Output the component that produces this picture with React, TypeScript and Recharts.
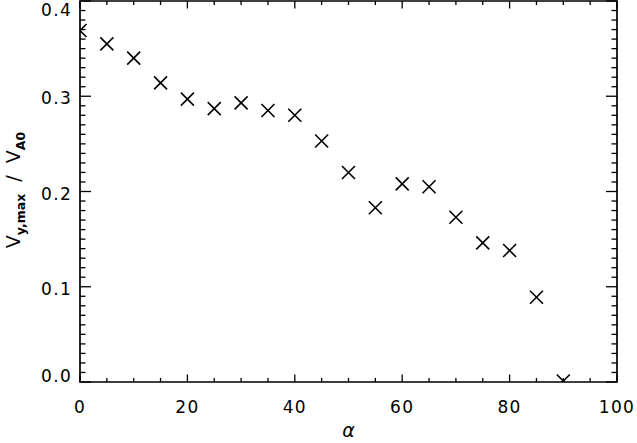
import React from 'react';
import {
  ScatterChart,
  Scatter,
  XAxis,
  YAxis,
  ReferenceArea,
  Label,
} from 'recharts';

// angle alpha (deg) and measured ratio V_y,max / V_A0
const ALPHA = [0, 5, 10, 15, 20, 25, 30, 35, 40, 45, 50, 55, 60, 65, 70, 75, 80, 85, 90];
const RATIO = [
  0.369, 0.355, 0.34, 0.314, 0.297, 0.287, 0.293, 0.285, 0.28, 0.253,
  0.22, 0.183, 0.208, 0.205, 0.173, 0.146, 0.138, 0.089, 0.001,
];

const X_MAJOR = [0, 20, 40, 60, 80, 100];
const X_MINOR_STEP = 5;
const Y_MAJOR = [0, 0.1, 0.2, 0.3, 0.4];
const Y_MINOR_STEP = 0.01;

const X_TICKS: number[] = [];
for (let v = 0; v <= 100; v += X_MINOR_STEP) X_TICKS.push(v);
const Y_TICKS: number[] = [];
for (let i = 0; i <= 40; i++) Y_TICKS.push(Math.round(i * Y_MINOR_STEP * 100) / 100);

const data = ALPHA.map((a, i) => ({ alpha: a, ratio: RATIO[i] }));

const W = 637;
const H = 443;
const PLOT_L = 80;
const PLOT_R = 617;
const PLOT_T = 1;
const PLOT_B = 382;
const FONT = '"DejaVu Sans", sans-serif';

const isXMajor = (v: number) => X_MAJOR.some(m => Math.abs(m - v) < 1e-6);
const isYMajor = (v: number) => Y_MAJOR.some(m => Math.abs(m - v) < 1e-6);

const XTick = (props: any) => {
  const { x, payload } = props;
  const major = isXMajor(payload.value);
  const len = major ? 7.5 : 4;
  return (
    <g>
      <line x1={x} x2={x} y1={PLOT_B} y2={PLOT_B - len} stroke="#000" strokeWidth={1.3} />
      <line x1={x} x2={x} y1={PLOT_T} y2={PLOT_T + len} stroke="#000" strokeWidth={1.3} />
      {major && (
        <text x={x} y={PLOT_B + 31} textAnchor="middle" fontSize={17} letterSpacing={1.3} fontFamily={FONT} fill="#000">
          {payload.value}
        </text>
      )}
    </g>
  );
};

const YTick = (props: any) => {
  const { y, payload } = props;
  const major = isYMajor(payload.value);
  const len = major ? 11 : 5.5;
  const cy = Math.min(Math.max(y + 2, 10), 376);
  return (
    <g>
      <line x1={PLOT_L} x2={PLOT_L + len} y1={y} y2={y} stroke="#000" strokeWidth={1.3} />
      <line x1={PLOT_R} x2={PLOT_R - len} y1={y} y2={y} stroke="#000" strokeWidth={1.3} />
      {major && (
        <text x={72} y={cy + 6} textAnchor="end" fontSize={17} letterSpacing={1.3} fontFamily={FONT} fill="#000">
          {payload.value.toFixed(1)}
        </text>
      )}
    </g>
  );
};

const Cross = (props: any) => {
  const { cx, cy } = props;
  const r = 6.5;
  return (
    <path
      d={`M${cx - r},${cy - r}L${cx + r},${cy + r}M${cx - r},${cy + r}L${cx + r},${cy - r}`}
      stroke="#000"
      strokeWidth={1.6}
      fill="none"
    />
  );
};

const XTitle = () => (
  <text x={(PLOT_L + PLOT_R) / 2} y={437} textAnchor="middle" fontSize={19} fontStyle="italic" fontFamily={FONT} fill="#000">
    α
  </text>
);

const YTitle = () => (
  <text
    x={20}
    y={190}
    transform="rotate(-90 20 190)"
    textAnchor="middle"
    fontSize={19}
    fontFamily={FONT}
    fill="#000"
  >
    <tspan>V</tspan>
    <tspan dy={5} fontSize={12.5} fontWeight="bold">y,max</tspan>
    <tspan dy={-5}>{'\u00a0\u00a0/\u00a0\u00a0'}</tspan>
    <tspan>V</tspan>
    <tspan dy={5} fontSize={12.5} fontWeight="bold">A0</tspan>
  </text>
);

export default function App() {
  return (
    <div style={{ position: 'absolute', left: 0, top: 0, width: W, height: H, background: '#fff' }}>
      <ScatterChart width={W} height={H} margin={{ top: PLOT_T, right: W - PLOT_R, bottom: 0, left: 0 }}>
        <XAxis
          type="number"
          dataKey="alpha"
          domain={[0, 100]}
          ticks={X_TICKS}
          interval={0}
          allowDataOverflow
          height={H - PLOT_B}
          tickSize={0}
          tickMargin={0}
          tickLine={false}
          axisLine={false}
          tick={<XTick />}
        >
          <Label content={<XTitle />} />
        </XAxis>
        <YAxis
          type="number"
          dataKey="ratio"
          domain={[0, 0.4]}
          ticks={Y_TICKS}
          interval={0}
          allowDataOverflow
          width={PLOT_L}
          tickSize={0}
          tickMargin={0}
          tickLine={false}
          axisLine={false}
          tick={<YTick />}
        >
          <Label content={<YTitle />} />
        </YAxis>
        <ReferenceArea
          x1={0}
          x2={100}
          y1={0}
          y2={0.4}
          fill="none"
          stroke="#000"
          strokeWidth={1.7}
          ifOverflow="visible"
        />
        <Scatter data={data} shape={<Cross />} isAnimationActive={false} />
      </ScatterChart>
    </div>
  );
}
